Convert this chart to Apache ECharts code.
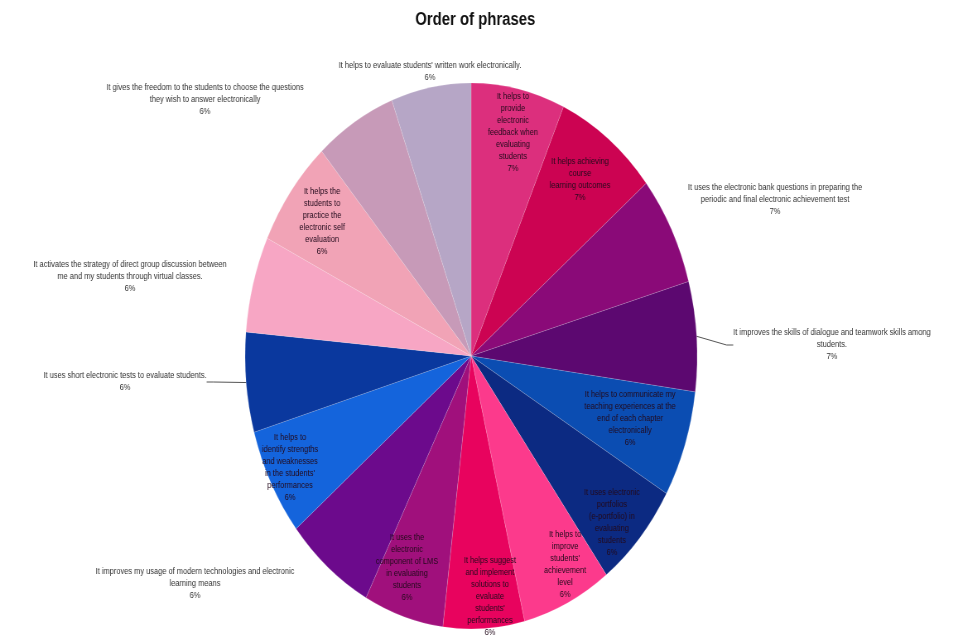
<!DOCTYPE html>
<html><head><meta charset="utf-8">
<script src="https://cdn.jsdelivr.net/npm/echarts@6/dist/echarts.min.js"></script>
<style>
html,body{margin:0;padding:0;background:#fff;overflow:hidden;}
#wrap{width:958px;height:636px;overflow:hidden;position:relative;}
#chart{width:1157px;height:636px;transform:scaleX(0.828);transform-origin:0 0;}
</style></head><body>
<div id="wrap"><div id="chart"></div></div>
<script>
// ---- data ----
const phrases = [
  "It helps to\nprovide\nelectronic\nfeedback when\nevaluating\nstudents",
  "It helps achieving\ncourse\nlearning outcomes",
  "It uses the electronic bank questions in preparing the\nperiodic and final electronic achievement test",
  "It improves the skills of dialogue and teamwork skills among\nstudents.",
  "It helps to communicate my\nteaching experiences at the\nend of each chapter\nelectronically",
  "It uses electronic\nportfolios\n(e-portfolio) in\nevaluating\nstudents",
  "It helps to\nimprove\nstudents'\nachievement\nlevel",
  "It helps suggest\nand implement\nsolutions to\nevaluate\nstudents'\nperformances",
  "It uses the\nelectronic\ncomponent of LMS\nin evaluating\nstudents",
  "It improves my usage of modern technologies and electronic\nlearning means",
  "It helps to\nidentify strengths\nand weaknesses\nin the students'\nperformances",
  "It uses short electronic tests to evaluate students.",
  "It activates the strategy of direct group discussion between\nme and my students through virtual classes.",
  "It helps the\nstudents to\npractice the\nelectronic self\nevaluation",
  "It gives the freedom to the students to choose the questions\nthey wish to answer electronically",
  "It helps to evaluate students' written work electronically."
];
// estimated shares (%); they round to the printed labels
const shares = [6.7, 7.4, 6.5, 6.5, 6.3, 6.4, 6.4, 5.8, 5.7, 6.4, 6.4, 5.9, 5.7, 6.4, 5.8, 5.7];

// ---- styles ----
const colors = ["#dc2f7d","#cc0352","#8a0a78","#5c0870","#0b4db2","#0c2a82","#fc3a8c","#e8035e",
                "#a0107c","#6c0a8c","#1464dc","#0a389e","#f7a6c4","#f1a3b6","#c79ab8","#b6a6c6"];
const insideIdx = [0,1,4,5,6,7,8,10,13];
const lineIdx = [3,11];
const labelPos = {
  0:[619.6,133], 1:[700.5,180], 2:[936,200], 3:[1004.8,345], 4:[760.9,419], 5:[739,523],
  6:[682.4,565], 7:[591.8,597], 8:[491.5,568], 9:[235.5,584], 10:[350.2,468], 11:[151,382],
  12:[157,277], 13:[388.9,222], 14:[247.6,100], 15:[519.3,72]
};
const FONT = "'Liberation Sans', Arial, sans-serif";

const data = phrases.map((p, i) => {
  const inside = insideIdx.includes(i);
  return {
    name: p,
    value: shares[i],
    itemStyle: { color: colors[i] },
    label: {
      position: inside ? 'inside' : 'outside',
      color: inside ? '#230a1c' : '#333333'
    },
    labelLine: { show: lineIdx.includes(i), length: 8, length2: 8,
                 lineStyle: { color: '#555', width: 1 } }
  };
});

const chart = echarts.init(document.getElementById('chart'));
chart.setOption({
  animation: false,
  backgroundColor: '#ffffff',
  title: {
    text: 'Order of phrases',
    left: 569, top: 6, textAlign: 'center',
    textStyle: { fontFamily: FONT, fontSize: 18, fontWeight: 'bold', color: '#111' }
  },
  series: [{
    type: 'pie',
    center: [569, 356],
    radius: 273,
    startAngle: 90,
    clockwise: true,
    avoidLabelOverlap: false,
    itemStyle: { borderColor: 'rgba(255,255,255,0.25)', borderWidth: 0.6 },
    label: {
      show: true,
      formatter: function (p) { return p.name + '\n' + Math.round(p.value) + '%'; },
      fontFamily: FONT,
      fontSize: 9,
      lineHeight: 12,
      align: 'center',
      textBorderWidth: 0,
      textBorderColor: 'transparent',
      textShadowBlur: 0
    },
    labelLine: { show: false },
    labelLayout: function (params) {
      const p = labelPos[params.dataIndex];
      return { x: p[0], y: p[1], align: 'center', verticalAlign: 'middle' };
    },
    data: data
  }]
});
</script>
</body></html>
